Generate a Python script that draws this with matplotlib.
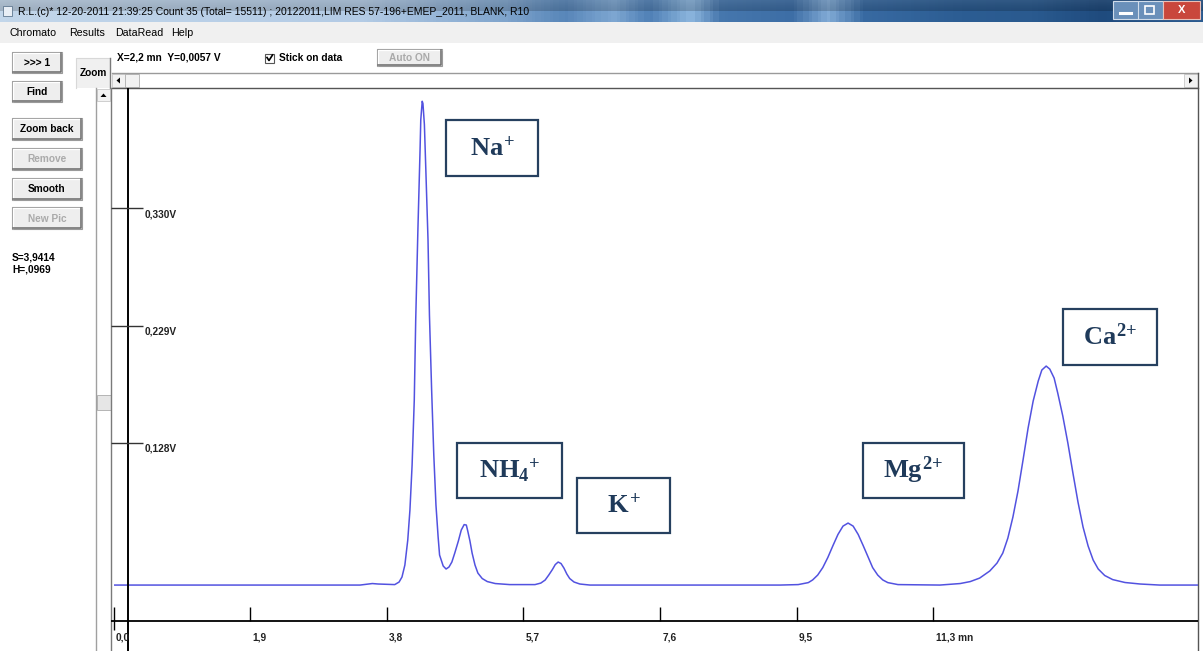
import numpy as np
import matplotlib
matplotlib.use("Agg")
import matplotlib.pyplot as plt
from matplotlib.patches import Rectangle, Polygon
from matplotlib.colors import LinearSegmentedColormap

W, H = 1203, 651

# chromatogram: time (min) / detector signal (V)
time_min = [0.00, 2.58, 3.41, 3.58, 3.66, 3.89, 3.95, 3.99, 4.03, 4.07, 4.10,
            4.13, 4.16, 4.18, 4.21, 4.24, 4.25, 4.27, 4.28, 4.30, 4.32, 4.35,
            4.37, 4.40, 4.43, 4.46, 4.49, 4.51, 4.56, 4.60, 4.64, 4.68, 4.72,
            4.77, 4.81, 4.85, 4.88, 4.90, 4.93, 4.96, 5.00, 5.04, 5.10, 5.17,
            5.28, 5.48, 5.83, 5.91, 5.97, 6.02, 6.07, 6.11, 6.15, 6.19, 6.23,
            6.27, 6.31, 6.37, 6.45, 6.59, 9.22, 9.47, 9.61, 9.67, 9.74, 9.81,
            9.88, 9.95, 10.02, 10.09, 10.16, 10.23, 10.30, 10.37, 10.44, 10.50,
            10.57, 10.64, 10.71, 10.85, 11.43, 11.71, 11.85, 11.98, 12.12,
            12.22, 12.30, 12.37, 12.44, 12.51, 12.58, 12.65, 12.72, 12.79,
            12.84, 12.90, 12.95, 13.01, 13.06, 13.13, 13.20, 13.27, 13.34,
            13.41, 13.48, 13.55, 13.62, 13.71, 13.82, 13.99, 14.20, 14.47,
            14.99]
signal_v = [0.0060, 0.0060, 0.0060, 0.0073, 0.0069, 0.0064, 0.0086, 0.0129,
            0.0232, 0.0447, 0.0705, 0.1092, 0.165, 0.234, 0.311, 0.380, 0.406,
            0.422, 0.420, 0.402, 0.363, 0.303, 0.238, 0.174, 0.118, 0.0748,
            0.0473, 0.0318, 0.0224, 0.0198, 0.0215, 0.0258, 0.0335, 0.0439,
            0.0533, 0.0580, 0.0576, 0.0524, 0.0439, 0.0335, 0.0232, 0.0163,
            0.0116, 0.0090, 0.0073, 0.0064, 0.0064, 0.0077, 0.0103, 0.0146,
            0.0193, 0.0236, 0.0258, 0.0245, 0.0206, 0.0155, 0.0116, 0.0086,
            0.0069, 0.0060, 0.0060, 0.0064, 0.0081, 0.0104, 0.0146, 0.0210,
            0.0297, 0.0398, 0.0495, 0.0567, 0.0593, 0.0567, 0.0495, 0.0398,
            0.0297, 0.0210, 0.0146, 0.0104, 0.0081, 0.0064, 0.0060, 0.0073,
            0.0090, 0.0120, 0.0181, 0.0249, 0.0335, 0.0464, 0.0645, 0.0868,
            0.1135, 0.1410, 0.1642, 0.1814, 0.1909, 0.1943, 0.1917, 0.1840,
            0.1711, 0.1513, 0.1281, 0.1023, 0.0774, 0.0559, 0.0396, 0.0275,
            0.0198, 0.0142, 0.0107, 0.0082, 0.0069, 0.0060, 0.0060]

xtick_min = [0.0, 1.89, 3.78, 5.67, 7.56, 9.45, 11.34]
xtick_labels = ["0,0", "1,9", "3,8", "5,7", "7,6", "9,5", "11,3 mn"]
ytick_v = [0.330, 0.229, 0.128]
ytick_labels = ["0,330V", "0,229V", "0,128V"]

ion_labels = [r"$Na^{+}$", r"$NH_4{}^{+}$", r"$K^{+}$", r"$Mg^{2{+}}$",
              r"$Ca^{2{+}}$"]
# label boxes in screen pixels (x, y, w, h)
ion_boxes = [(446, 120, 92, 56), (457, 443, 105, 55), (577, 478, 93, 55),
             (863, 443, 101, 55), (1063, 309, 94, 56)]

title = ("R.L.(c)* 12-20-2011 21:39:25 Count 35 (Total= 15511) ; "
         "20122011,LIM RES 57-196+EMEP_2011, BLANK, R10")
menu_items = ["Chromato", "Results", "DataRead", "Help"]
menu_x = [10, 69, 115, 171]

plt.rcParams['font.family'] = ['Liberation Sans', 'DejaVu Sans']
plt.rcParams['mathtext.fontset'] = 'custom'
plt.rcParams['mathtext.rm'] = 'Liberation Serif:bold'
plt.rcParams['mathtext.it'] = 'Liberation Serif:bold'
plt.rcParams['mathtext.bf'] = 'Liberation Serif:bold'

fig = plt.figure(figsize=(W / 100, H / 100), dpi=100)
fig.patch.set_facecolor('white')

# screen layer in pixel coordinates
bg = fig.add_axes([0, 0, 1, 1], zorder=0)
bg.set_xlim(0, W)
bg.set_ylim(H, 0)
bg.axis('off')

# --- title bar
tb_cmap = LinearSegmentedColormap.from_list("tb", [
    (0.0, "#c2d6ea"), (0.30, "#b3cbe5"), (0.42, "#7fa4cc"), (0.47, "#5886b9"),
    (0.51, "#7ea7d2"), (0.54, "#4f80b6"), (0.575, "#8db6de"), (0.60, "#4677ad"),
    (0.66, "#3d6ea6"), (0.69, "#82abd6"), (0.72, "#386aa2"), (0.80, "#2c5d93"),
    (0.86, "#2a5a8f"), (0.92, "#1f4b7e"), (1.0, "#2b5b90")])
grad = np.linspace(0, 1, 400)[None, :].repeat(2, axis=0)
bg.imshow(grad, cmap=tb_cmap, extent=(0, W, 22, 0), aspect='auto', zorder=0)
bg.imshow(np.linspace(0.25, 0, 20)[:, None], cmap='Greys_r', alpha=0.18,
          extent=(0, W, 11, 0), aspect='auto', zorder=0.5, vmin=0, vmax=1)
bg.add_patch(Rectangle((3, 6), 9, 10, fc='#e8eef5', ec='#607890', lw=0.6))
bg.text(18, 12, title, fontsize=7.45, va='center', ha='left', color='black')

# window buttons
bg.add_patch(Rectangle((1113, 1), 50, 18, fc='#6a90ba', ec='#d0dcea', lw=0.8))
bg.plot([1138, 1138], [2, 18], color='#d0dcea', lw=0.8)
bg.plot([1120, 1131], [13, 13], color='white', lw=2.2)
bg.add_patch(Rectangle((1145, 6), 9, 8, fc='none', ec='white', lw=1.2))
bg.add_patch(Rectangle((1163, 1), 37, 18, fc='#c9473c', ec='#e9c0b8', lw=0.8))
bg.text(1181.5, 10, "X", fontsize=8, color='white', ha='center', va='center',
        fontweight='bold')

# --- menu bar
bg.add_patch(Rectangle((0, 22), W, 21, fc='#f0f0f0', ec='none'))
for lbl, mx in zip(menu_items, menu_x):
    bg.text(mx, 33, lbl, fontsize=7.7, va='center', ha='left', color='black')


def button(x0, y0, x1, y1, label, enabled=True):
    bg.add_patch(Rectangle((x0, y0), x1 - x0, y1 - y0, fc='#eeeeee',
                           ec='#9a9a9a', lw=0.8))
    bg.plot([x0 + 1, x0 + 1, x1 - 1], [y1 - 1, y0 + 1, y0 + 1],
            color='white', lw=0.9)
    bg.plot([x0 + 1, x1 - 1, x1 - 1], [y1 - 1, y1 - 1, y0 + 1],
            color='#6a6a6a', lw=1.1)
    bg.text((x0 + x1) / 2, (y0 + y1) / 2 + 0.5, label, ha='center',
            va='center', fontsize=7.3, fontweight='bold',
            color='black' if enabled else '#aaaaaa')


button(12, 52, 62, 73, ">>> 1")
button(12, 81, 62, 102, "Find")
button(12, 118, 82, 140, "Zoom back")
button(12, 148, 82, 170, "Remove", enabled=False)
button(12, 178, 82, 200, "Smooth")
button(12, 207, 82, 229, "New Pic", enabled=False)
button(377, 49, 442, 66, "Auto ON", enabled=False)

# Zoom button (only top/left edges visible)
bg.add_patch(Rectangle((76, 58), 34, 30, fc='#f0f0f0', ec='none'))
bg.plot([76, 76, 110], [88, 58, 58], color='#d8d8d8', lw=0.8)
bg.plot([110, 110], [58, 88], color='#7a7a7a', lw=1)
bg.text(93, 73, "Zoom", fontsize=7.3, fontweight='bold', ha='center', va='center')

bg.text(12, 258, "S=3,9414", fontsize=7.3, fontweight='bold', va='center')
bg.text(12, 270, "H=,0969", fontsize=7.3, fontweight='bold', va='center')
bg.text(117, 58, "X=2,2 mn  Y=0,0057 V", fontsize=7.3, fontweight='bold',
        va='center')
bg.add_patch(Rectangle((265, 53.5), 9, 9, fc='white', ec='#555555', lw=0.8))
bg.plot([267, 269, 272.5], [57.5, 60.5, 55], color='black', lw=1.2)
bg.text(279, 58, "Stick on data", fontsize=7.3, fontweight='bold', va='center')

# horizontal scrollbar
bg.add_patch(Rectangle((112, 73), 1086, 15, fc='white', ec='none'))
bg.plot([112, 1198], [73, 73], color='#9a9a9a', lw=1)
bg.plot([112, 1198], [88, 88], color='#555555', lw=1)
bg.add_patch(Rectangle((112, 74), 13, 13, fc='#f2f2f2', ec='#c8c8c8', lw=0.6))
bg.add_patch(Rectangle((125, 74), 14, 13, fc='#f2f2f2', ec='#b0b0b0', lw=0.6))
bg.add_patch(Polygon([[120, 77.5], [120, 83.5], [116.5, 80.5]], fc='black'))
bg.add_patch(Rectangle((1184, 74), 14, 13, fc='#f2f2f2', ec='#c8c8c8', lw=0.6))
bg.add_patch(Polygon([[1189, 77.5], [1189, 83.5], [1192.5, 80.5]], fc='black'))

# vertical scrollbar
bg.add_patch(Rectangle((96, 88), 15, H - 88, fc='white', ec='none'))
bg.plot([96, 96], [88, H], color='#a0a0a0', lw=1)
bg.plot([111, 111], [88, H], color='#7a7a7a', lw=1)
bg.add_patch(Rectangle((97, 89), 13, 12, fc='#f2f2f2', ec='#c8c8c8', lw=0.6))
bg.add_patch(Polygon([[100.5, 97], [106.5, 97], [103.5, 93.5]], fc='black'))
bg.add_patch(Rectangle((97, 395), 14, 15, fc='#e6e6e6', ec='#b5b5b5', lw=0.7))

# right frame
bg.plot([1198, 1198], [73, H], color='#555555', lw=1)

# ion label boxes
for lbl, (bx, by, bw, bh) in zip(ion_labels, ion_boxes):
    bg.add_patch(Rectangle((bx, by), bw, bh, fc='white', ec='#26405f', lw=1.6,
                           zorder=3))
    bg.text(bx + bw / 2, by + bh / 2, lbl, fontsize=19, color='#1f3a5a',
            ha='center', va='center', zorder=4)

# --- chromatogram axes
x0_px, x1_px, top_px = 113.5, 1198, 88
ax = fig.add_axes([x0_px / W, 0, (x1_px - x0_px) / W, (H - top_px) / H],
                  zorder=1)
ax.patch.set_visible(False)
ax.set_xlim(0, 15)
ax.set_ylim(-0.0507, 0.4334)
ax.axis('off')

ax.plot(time_min, signal_v, color='#5252e0', lw=1.1, zorder=2)

# axes drawn the way the software does it
y_axis_t = 0.2
x_axis_v = -0.0249
ax.axvline(y_axis_t, color='black', lw=1.4)
ax.hlines(x_axis_v, -0.035, 15, color='black', lw=1.3, clip_on=False)
for i, (t, lbl) in enumerate(zip(xtick_min, xtick_labels)):
    lo = x_axis_v - 0.008 if i == 0 else x_axis_v
    ax.vlines(t, lo, x_axis_v + 0.012, color='black', lw=1, clip_on=False)
    ax.text(t + 0.03, -0.0387, lbl, fontsize=7.3, fontweight='bold',
            ha='left', va='center', color='#222222')
for v, lbl in zip(ytick_v, ytick_labels):
    ax.hlines(v, -0.035, 0.408, color='#333333', lw=1, clip_on=False)
    ax.text(0.43, v - 0.005, lbl, fontsize=7.3, fontweight='bold',
            ha='left', va='center', color='#222222')

fig.savefig("out.png", dpi=100)
